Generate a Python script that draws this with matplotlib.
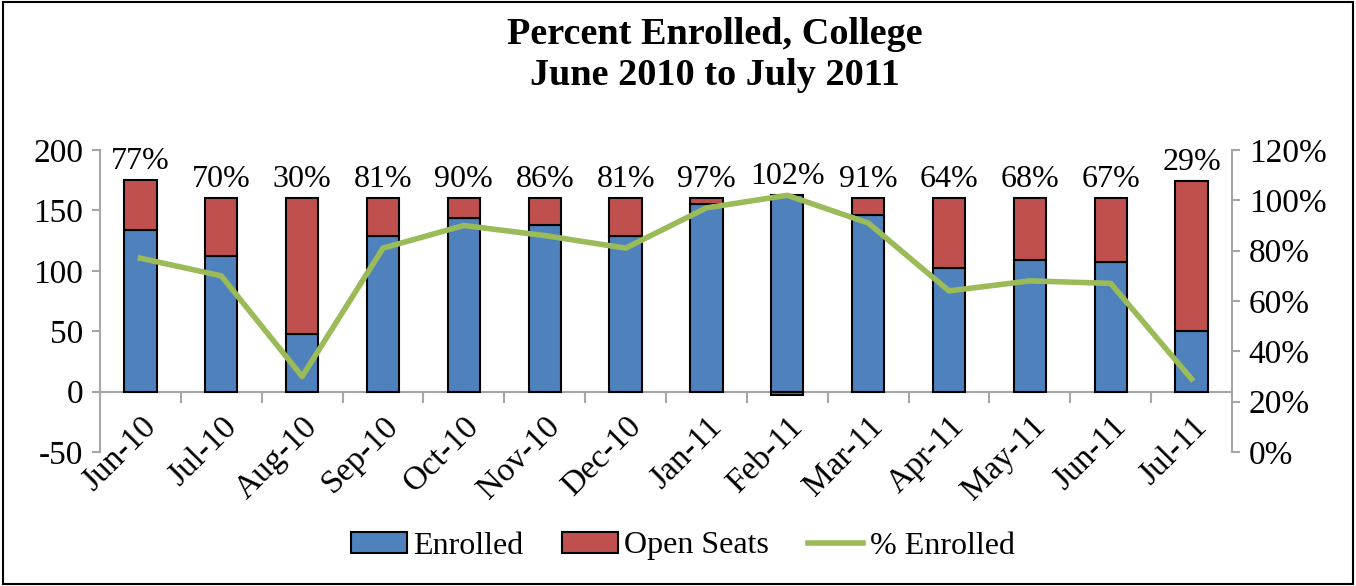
import matplotlib
matplotlib.use("Agg")
import matplotlib.pyplot as plt
from matplotlib.patches import Rectangle
from matplotlib.lines import Line2D
import numpy as np

months = ["Jun-10", "Jul-10", "Aug-10", "Sep-10", "Oct-10", "Nov-10", "Dec-10",
          "Jan-11", "Feb-11", "Mar-11", "Apr-11", "May-11", "Jun-11", "Jul-11"]
enrolled = [134, 112, 48, 129, 144, 138, 129, 155, 163, 146, 102, 109, 107, 50]
open_seats = [41, 48, 112, 31, 16, 22, 31, 5, -3, 14, 58, 51, 53, 124]
pct_enrolled = [77, 70, 30, 81, 90, 86, 81, 97, 102, 91, 64, 68, 67, 29]
left_ticks = [-50, 0, 50, 100, 150, 200]
right_ticks = [0, 20, 40, 60, 80, 100, 120]

plt.rcParams['font.family'] = ['Liberation Serif', 'DejaVu Serif']

BLUE = "#4F81BD"
RED = "#C0504D"
GREEN = "#9BBB59"
GRAY = "#A6A6A6"
FS = 24

fig = plt.figure(figsize=(13.56, 5.86), dpi=100)
W, H = 1356, 586
ax = fig.add_axes([100 / W, 1 - 452 / H, (1232 - 100) / W, (452 - 150) / H])

x = np.arange(len(months))
ax.bar(x, enrolled, width=0.4, color=BLUE, edgecolor="black", linewidth=1.5, zorder=2)
bottoms = [e if o >= 0 else 0 for e, o in zip(enrolled, open_seats)]
ax.bar(x, open_seats, width=0.4, bottom=bottoms, color=RED, edgecolor="black",
       linewidth=1.5, zorder=2)

ax.set_xlim(-0.5, len(months) - 0.5)
ax.set_ylim(-50, 200)
ax.set_yticks(left_ticks)
ax.set_yticklabels([str(t) for t in left_ticks], fontsize=FS)
for s in ["top", "right"]:
    ax.spines[s].set_visible(False)
ax.spines["left"].set_color(GRAY)
ax.spines["left"].set_linewidth(1.5)
ax.spines["bottom"].set_position(("data", 0))
ax.spines["bottom"].set_color(GRAY)
ax.spines["bottom"].set_linewidth(1.5)
ax.spines["bottom"].set_zorder(1)
ax.tick_params(axis="y", direction="out", length=6, width=1.5, color=GRAY, pad=6)

ax.set_xticks(x)
ax.set_xticklabels(months, rotation=45, ha="right", va="top",
                   rotation_mode="anchor", fontsize=FS)
ax.tick_params(axis="x", which="major", length=0, pad=14)
ax.set_xticks(np.arange(0.5, len(months) - 0.5, 1), minor=True)
ax.tick_params(axis="x", which="minor", direction="out", length=8, width=1.5, color=GRAY)

# percent labels above bars
for xi, e, o, p in zip(x, enrolled, open_seats, pct_enrolled):
    top = max(e, e + o)
    ax.annotate(f"{p}%", (xi, top), xytext=(0, 3), textcoords="offset points",
                ha="center", va="bottom", fontsize=23, zorder=5)

ax2 = ax.twinx()
ax2.set_position(ax.get_position())
ax2.plot(x, pct_enrolled, color=GREEN, linewidth=4, zorder=4)
ax2.set_ylim(0, 120)
ax2.set_yticks(right_ticks)
ax2.set_yticklabels([f"{t}%" for t in right_ticks], fontsize=FS)
for s in ["top", "left", "bottom"]:
    ax2.spines[s].set_visible(False)
ax2.spines["right"].set_color(GRAY)
ax2.spines["right"].set_linewidth(1.5)
ax2.tick_params(axis="y", direction="out", length=6, width=1.5, color=GRAY, pad=6)

fig.text(715 / W, 1 - 35 / H, "Percent Enrolled, College", ha="center", va="center",
         fontsize=27.5, fontweight="bold")
fig.text(715 / W, 1 - 76 / H, "June 2010 to July 2011", ha="center", va="center",
         fontsize=27.5, fontweight="bold")

handles = [Rectangle((0, 0), 1, 1, facecolor=BLUE, edgecolor="black", linewidth=1.5),
           Rectangle((0, 0), 1, 1, facecolor=RED, edgecolor="black", linewidth=1.5),
           Line2D([0], [0], color=GREEN, linewidth=4)]
fig.legend(handles, ["Enrolled", "Open Seats", "% Enrolled"], loc="center",
           bbox_to_anchor=(683 / W, 1 - 546 / H), ncol=3, frameon=False, fontsize=23,
           handlelength=1.75, handleheight=0.63, handletextpad=0.2, columnspacing=1.2)

fig.add_artist(Rectangle((0.002, 0.003), 0.996, 0.994, transform=fig.transFigure,
                         fill=False, edgecolor="black", linewidth=1.5))

fig.savefig("out.png", dpi=100)
